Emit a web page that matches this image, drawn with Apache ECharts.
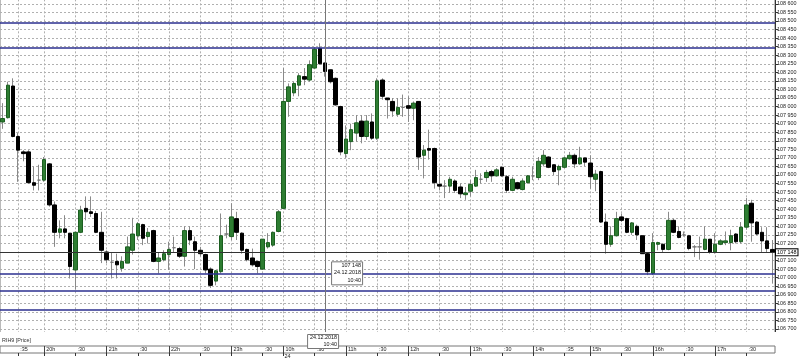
<!DOCTYPE html>
<html><head><meta charset="utf-8">
<script src="https://cdn.jsdelivr.net/npm/echarts@6/dist/echarts.min.js"></script>
<style>html,body{margin:0;padding:0;background:#fff}#c{width:800px;height:358px}</style>
</head><body><div id="c"></div>
<script>
const times = [
'19:20','19:25','19:30','19:35','19:40','19:45','19:50','19:55',
'20:00','20:05','20:10','20:15','20:20','20:25','20:30','20:35','20:40','20:45','20:50','20:55',
'21:00','21:05','21:10','21:15','21:20','21:25','21:30','21:35','21:40','21:45','21:50','21:55',
'22:00','22:05','22:10','22:15','22:20','22:25','22:30','22:35','22:40','22:45','22:50','22:55',
'23:00','23:05','23:10','23:15','23:20','23:25','23:30','23:35','23:40','23:45',
'10:00','10:05','10:10','10:15','10:20','10:25','10:30','10:35','10:40','10:45','10:50','10:55',
'11:00','11:05','11:10','11:15','11:20','11:25','11:30','11:35','11:40','11:45','11:50','11:55',
'12:00','12:05','12:10','12:15','12:20','12:25','12:30','12:35','12:40','12:45','12:50','12:55',
'13:00','13:05','13:10','13:15','13:20','13:25','13:30','13:35','13:40','13:45','13:50','13:55',
'14:00','14:05','14:10','14:15','14:20','14:25','14:35','14:40','14:45','14:50','14:55',
'15:00','15:05','15:10','15:15','15:20','15:25','15:30','15:35','15:40','15:45','15:50','15:55',
'16:00','16:05','16:10','16:15','16:20','16:25','16:30','16:35','16:40','16:45','16:50','16:55',
'17:00','17:05','17:10','17:15','17:20','17:25','17:30','17:35','17:40','17:45','17:50','17:55'
];
const opens = [
107910,107935,108120,107825,107735,107735,107555,107570,107570,107665,107425,107265,107285,107260,107045,107265,107405,107385,107375,107265,
107150,107090,107095,107055,107085,107160,107245,107310,107240,107275,107095,107105,107135,107175,107170,107125,107275,107210,107160,107135,
107050,106980,107035,107255,107240,107345,107260,107165,107115,107095,107050,107180,107190,107270,107405,108030,108080,108125,108175,108155,
108225,108340,108255,108215,108165,108000,107725,107795,107845,107915,107825,107910,107815,108155,108050,108030,107955,107995,108005,107990,
108030,107715,107755,107755,107545,107535,107535,107565,107530,107485,107505,107535,107575,107585,107620,107595,107645,107590,107510,107555,
107515,107555,107595,107585,107665,107705,107660,107630,107645,107695,107715,107665,107700,107670,107575,107620,107325,107195,107245,107355,
107345,107265,107300,107245,107140,107025,107195,107195,107165,107335,107270,107250,107245,107180,107180,107165,107225,107150,107195,107205,
107205,107255,107210,107295,107435,107325,107265,107215,107165
];
const highs = [
108020,108145,108165,107845,107745,107745,107650,107660,107705,107670,107445,107335,107365,107260,107270,107420,107475,107475,107390,107385,
107160,107145,107140,107125,107240,107350,107325,107315,107290,107280,107145,107160,107210,107240,107180,107300,107300,107240,107180,107140,
107060,107045,107375,107310,107435,107385,107265,107170,107170,107095,107225,107260,107270,107395,108225,108135,108145,108195,108225,108270,
108345,108370,108255,108215,108170,108005,107890,107900,107950,107950,107950,107960,108165,108165,108050,108050,108050,108070,108060,108030,
108030,107775,107865,107760,107630,107570,107590,107575,107550,107530,107570,107630,107610,107630,107630,107640,107650,107600,107590,107560,
107580,107600,107650,107705,107745,107710,107660,107660,107705,107735,107725,107765,107700,107715,107630,107625,107375,107300,107385,107375,
107350,107325,107310,107245,107145,107260,107210,107200,107385,107345,107300,107270,107250,107190,107240,107300,107225,107260,107225,107270,
107280,107260,107325,107465,107455,107330,107295,107295,107220
];
const lows = [
107870,107930,107820,107560,107680,107550,107510,107510,107560,107415,107180,107230,107230,106995,106930,107260,107335,107355,107260,107085,
107085,106995,106995,107035,107085,107135,107220,107190,107200,107090,107025,107095,107045,107150,107115,107065,107190,107050,107125,107025,
106940,106955,107025,107230,107220,107220,107140,107095,107065,107025,107045,107170,107180,107265,107400,107940,108060,108060,108125,108145,
108220,108245,108175,108135,108005,107715,107700,107745,107795,107785,107805,107805,107805,108040,107930,107940,107940,107940,107910,107920,
107630,107580,107690,107520,107510,107465,107495,107495,107465,107455,107475,107530,107550,107560,107560,107590,107590,107495,107505,107515,
107510,107550,107570,107570,107650,107640,107600,107540,107640,107690,107640,107660,107650,107520,107505,107320,107140,107180,107240,107325,
107260,107250,107220,107140,107015,107015,107160,107150,107160,107260,107230,107240,107160,107120,107105,107160,107140,107140,107190,107190,
107160,107200,107200,107280,107210,107250,107150,107150,106965
];
const closes = [
107930,108125,107825,107745,107725,107555,107540,107570,107690,107425,107265,107285,107265,107065,107265,107395,107385,107375,107265,107160,
107105,107090,107075,107095,107180,107255,107315,107230,107265,107095,107115,107140,107165,107175,107125,107275,107220,107160,107140,107045,
106955,107040,107245,107255,107355,107265,107160,107105,107075,107065,107225,107205,107265,107385,108030,108115,108135,108180,108160,108245,
108335,108250,108205,108145,108010,107735,107810,107865,107905,107825,107915,107815,108150,108060,108040,107975,107995,107995,107990,108020,
107705,107745,107745,107555,107535,107535,107575,107510,107490,107495,107545,107585,107575,107615,107595,107630,107595,107510,107575,107520,
107565,107595,107595,107680,107715,107645,107620,107650,107700,107715,107665,107700,107675,107590,107605,107325,107195,107245,107345,107335,
107265,107320,107250,107140,107035,107205,107205,107165,107335,107265,107235,107250,107170,107180,107180,107225,107150,107195,107215,107215,
107245,107210,107295,107425,107320,107255,107215,107170,107148
];
const tickIdx  = [3,8,14,20,26,32,38,44,50,54,60,66,72,78,84,90,96,102,108,113,119,125,131,137,143];
const tickText = [':35','20h',':30','21h',':30','22h',':30','23h',':30','10h',':30','11h',':30','12h',':30','13h',':30','14h',':35','15h',':30','16h',':30','17h',':30'];
const levelLines = [108490, 108345, 107020, 106925, 106815];
const lastPrice = 107148;
const cursorTime = '10:40';
const cursorDate = '24.12.2018';
const dayLabel = '24';
const dayStartTime = '10:00';
const instrument = 'RIH9 [Price]';

const FONT = '"Liberation Sans", Arial, sans-serif';
const FS = 5.4;
const fmt = v => String(v).replace(/\B(?=(\d{3})+(?!\d))/g, ' ');
const tickSet = new Set(tickIdx);
const hourSet = new Set(tickIdx.filter((_, i) => tickText[i].endsWith('h')));
const labelMap = {}; tickIdx.forEach((t, i) => labelMap[t] = tickText[i]);

const wickData = times.map((_, i) => [opens[i], closes[i], lows[i], highs[i]]);
const bodyData = times.map((_, i) => [opens[i], closes[i], Math.min(opens[i], closes[i]), Math.max(opens[i], closes[i])]);

const chart = echarts.init(document.getElementById('c'), null, {renderer: 'canvas'});
const option = {
  animation: false,
  backgroundColor: '#fff',
  grid: [
    {left: 0, right: 25, top: -4.66, height: 342.2, outerBoundsMode: 'none', containLabel: false, show: true, borderColor: '#777', borderWidth: 1, backgroundColor: '#fff'},
    {left: 0, right: 25, top: 346, height: 7, outerBoundsMode: 'none', containLabel: false, show: true, borderColor: '#777', borderWidth: 1, backgroundColor: '#fff', z: 60}
  ],
  xAxis: [
    {type: 'category', data: times, gridIndex: 0, boundaryGap: true,
     axisLine: {show: false}, axisTick: {show: false}, axisLabel: {show: false},
     splitLine: {show: true, alignWithLabel: true, interval: (i) => tickSet.has(i), lineStyle: {color: '#b0b0b0', type: [2, 2], width: 1}}},
    {type: 'category', data: times, gridIndex: 1, position: 'top', z: 61, boundaryGap: true,
     axisLine: {show: false},
     axisTick: {show: true, inside: true, length: 3, alignWithLabel: true, interval: (i) => tickSet.has(i), lineStyle: {color: '#333'}},
     axisLabel: {show: true, inside: true, interval: (i) => tickSet.has(i), formatter: (v, i) => labelMap[i] || '',
                 align: 'left', verticalAlign: 'top', margin: 1, fontSize: FS, color: '#222', fontFamily: FONT, padding: [0, 0, 0, 2]},
     splitLine: {show: true, alignWithLabel: true, interval: (i) => hourSet.has(i), lineStyle: {color: '#444', width: 1}}}
  ],
  yAxis: [
    {type: 'value', gridIndex: 0, position: 'right', min: 106650, max: 108650, interval: 50,
     axisLine: {show: true, lineStyle: {color: '#333'}},
     axisTick: {show: true, length: 3, lineStyle: {color: '#333'}},
     axisLabel: {fontSize: FS, color: '#222', margin: 2, formatter: fmt, fontFamily: FONT},
     splitLine: {show: true, lineStyle: {color: '#b0b0b0', type: [2, 2], width: 1}}},
    {type: 'value', gridIndex: 1, show: false}
  ],
  series: [
    {type: 'candlestick', name: 'wick', xAxisIndex: 0, yAxisIndex: 0, data: wickData, barWidth: 1, z: 2,
     itemStyle: {color: '#8a8a8a', color0: '#8a8a8a', borderColor: '#8a8a8a', borderColor0: '#8a8a8a', borderColorDoji: '#8a8a8a', borderWidth: 1},
     markLine: {silent: true, symbol: 'none', animation: false, label: {show: false},
                lineStyle: {color: '#2b2f8f', width: 1.5, type: 'solid'},
                data: levelLines.map(v => ({yAxis: v}))}},
    {type: 'candlestick', name: 'body', xAxisIndex: 0, yAxisIndex: 0, data: bodyData, barWidth: 4, z: 3,
     itemStyle: {color: '#2e7d32', color0: '#000', borderColor: '#1b5e20', borderColor0: '#000', borderColorDoji: '#777', borderWidth: 1},
     markLine: {silent: true, symbol: 'none', animation: false,
                data: [
                  {xAxis: cursorTime, lineStyle: {color: '#777', width: 1, type: 'solid'}, label: {show: false}},
                  {yAxis: lastPrice, lineStyle: {color: '#333', width: 1, type: 'solid'},
                   label: {show: true, position: 'end', distance: 1, formatter: fmt(lastPrice), fontSize: FS, fontFamily: FONT,
                           color: '#000', backgroundColor: '#fff', borderColor: '#000', borderWidth: 1, padding: [1, 1, 0, 1]}}
                ]}}
  ]
};
chart.setOption(option);

const ci = times.indexOf(cursorTime);
const p = chart.convertToPixel({gridIndex: 0}, [ci, lastPrice]);
const cx = p[0], cy = p[1];
const dp = chart.convertToPixel({gridIndex: 0}, [times.indexOf(dayStartTime), lastPrice]);
const tfont = FS + 'px ' + FONT;
chart.setOption({
  graphic: [
    {type: 'rect', id: 'cover', silent: true, z: 50, shape: {x: 0, y: 332, width: 800, height: 26}, style: {fill: '#fff'}},
    {type: 'text', id: 'inst', silent: true, z: 51, x: 2, y: 338, style: {text: instrument, font: tfont, fill: '#333'}},
    {type: 'text', id: 'day', silent: true, z: 62, x: dp[0] + 1, y: 354.5, style: {text: dayLabel, font: tfont, fill: '#222'}},
    {type: 'rect', id: 'tipbox', silent: true, z: 70, shape: {x: cx + 6.5, y: cy + 9.5, width: 31, height: 23}, style: {fill: '#fff', stroke: '#777', lineWidth: 1}},
    {type: 'text', id: 'tip1', silent: true, z: 71, x: cx + 36, y: cy + 11, style: {text: fmt(lastPrice), font: tfont, fill: '#111', align: 'right'}},
    {type: 'text', id: 'tip2', silent: true, z: 71, x: cx + 36, y: cy + 18, style: {text: cursorDate, font: tfont, fill: '#111', align: 'right'}},
    {type: 'text', id: 'tip3', silent: true, z: 71, x: cx + 36, y: cy + 25.5, style: {text: cursorTime, font: tfont, fill: '#111', align: 'right'}},
    {type: 'rect', id: 'datebox', silent: true, z: 70, shape: {x: cx - 17.5, y: 334.5, width: 31, height: 14}, style: {fill: '#fff', stroke: '#777', lineWidth: 1}},
    {type: 'text', id: 'date1', silent: true, z: 71, x: cx + 12, y: 335.5, style: {text: cursorDate, font: tfont, fill: '#111', align: 'right'}},
    {type: 'text', id: 'date2', silent: true, z: 71, x: cx + 12, y: 342, style: {text: cursorTime, font: tfont, fill: '#111', align: 'right'}}
  ]
});
</script></body></html>
